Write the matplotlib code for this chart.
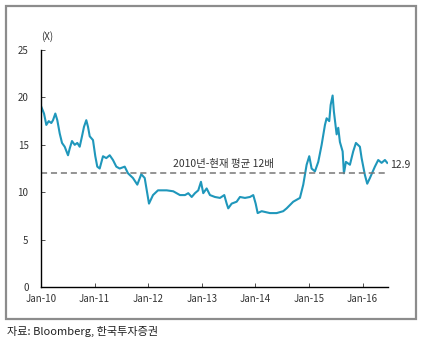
import matplotlib.pyplot as plt
from matplotlib.patches import Rectangle

plt.rcParams['font.family'] = ['Noto Sans CJK KR', 'DejaVu Sans']

# years since Jan-2010, P/E multiple (x)
years = [0.006, 0.056, 0.099, 0.144, 0.192, 0.224, 0.267, 0.304, 0.349, 0.392,
         0.442, 0.504, 0.535, 0.578, 0.629, 0.677, 0.722, 0.765, 0.802, 0.845,
         0.877, 0.909, 0.970, 1.013, 1.050, 1.095, 1.157, 1.218, 1.282, 1.343,
         1.405, 1.468, 1.562, 1.623, 1.716, 1.797, 1.871, 1.935,
         2.015, 2.090, 2.183, 2.345, 2.468, 2.593, 2.687, 2.748, 2.812, 2.873,
         2.935, 2.985, 3.028, 3.091, 3.153, 3.246, 3.340, 3.420, 3.465, 3.494,
         3.558, 3.651, 3.713, 3.806, 3.899, 3.961, 4.006, 4.043, 4.118, 4.272,
         4.397, 4.520, 4.584, 4.707, 4.832,
         4.894, 4.957, 5.006, 5.050, 5.112, 5.174, 5.237, 5.299, 5.330, 5.379,
         5.405, 5.442, 5.466, 5.517, 5.547, 5.578, 5.629, 5.653, 5.690, 5.765,
         5.826, 5.877, 5.951, 5.983, 6.045, 6.088, 6.138, 6.231, 6.293, 6.356,
         6.418, 6.461]
pe = [19.0, 18.3, 17.1, 17.5, 17.3, 17.6, 18.3, 17.6, 16.2, 15.2,
      14.8, 13.9, 14.6, 15.4, 15.0, 15.2, 14.8, 15.9, 16.9, 17.6,
      16.9, 15.9, 15.5, 13.8, 12.7, 12.5, 13.8, 13.6, 13.9, 13.4,
      12.7, 12.5, 12.7, 12.0, 11.5, 10.8, 11.9, 11.5,
      8.8, 9.7, 10.2, 10.2, 10.1, 9.7, 9.7, 9.9, 9.5, 9.9,
      10.2, 11.1, 9.9, 10.4, 9.7, 9.5, 9.4, 9.7, 8.8, 8.3,
      8.8, 9.0, 9.5, 9.4, 9.5, 9.7, 8.8, 7.8, 8.0, 7.8,
      7.8, 8.0, 8.3, 9.0, 9.4,
      10.8, 12.9, 13.8, 12.5, 12.2, 13.2, 15.0, 17.1, 17.8, 17.5,
      19.2, 20.2, 18.5, 16.1, 16.8, 15.3, 14.3, 12.0, 13.2, 12.9,
      14.3, 15.2, 14.8, 13.6, 11.8, 10.9, 11.5, 12.7, 13.4, 13.1,
      13.4, 13.1]

avg = 12
last_label = '12.9'
xtick_labels = ['Jan-10', 'Jan-11', 'Jan-12', 'Jan-13', 'Jan-14', 'Jan-15', 'Jan-16']
yticks = [0, 5, 10, 15, 20, 25]

fig = plt.figure(figsize=(4.25, 3.45), dpi=100)
fig.patches.append(Rectangle((0.014, 0.075), 0.965, 0.907, transform=fig.transFigure,
                             fill=False, edgecolor='#8c8c8c', linewidth=1.6))

ax = fig.add_axes([0.0965, 0.168, 0.817, 0.687])
ax.plot(years, pe, color='#1f97bb', linewidth=1.5)
ax.plot([0, 6.48], [avg, avg], color='#777777', linestyle=(0, (4, 2.5)), linewidth=1.1)

ax.set_xlim(0, 6.48)
ax.set_ylim(0, 25)
ax.set_xticks(range(7))
ax.set_xticklabels(xtick_labels)
ax.set_yticks(yticks)
ax.tick_params(direction='in', length=3, width=0.6, labelsize=7, colors='#333333', pad=5)
ax.tick_params(axis='y', pad=9)
for s in ['top', 'right']:
    ax.spines[s].set_visible(False)
for s in ['left', 'bottom']:
    ax.spines[s].set_linewidth(1.0)

ax.text(3.4, 13.0, '2010년-현재 평균 12배', fontsize=7.5, ha='center', va='center', color='#333333')
ax.text(6.52, 12.9, last_label, fontsize=7.5, ha='left', va='center', color='#333333')
ax.text(0.0, 25.8, '(X)', fontsize=7, ha='left', va='bottom', color='#333333')

fig.text(0.016, 0.022, '자료: Bloomberg, 한국투자증권', fontsize=8, ha='left', va='bottom',
         color='#222222')

fig.savefig('out.png', dpi=100)
